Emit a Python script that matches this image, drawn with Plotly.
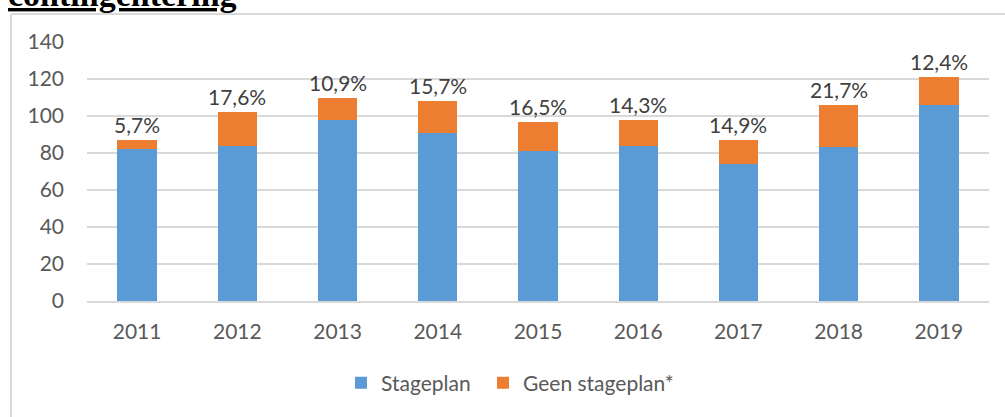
import plotly.graph_objects as go

years = ["2011", "2012", "2013", "2014", "2015", "2016", "2017", "2018", "2019"]
stageplan = [82, 84, 98, 91, 81, 84, 74, 83, 106]
geen_stageplan = [5, 18, 12, 17, 16, 14, 13, 23, 15]
pct_labels = ["5,7%", "17,6%", "10,9%", "15,7%", "16,5%", "14,3%", "14,9%", "21,7%", "12,4%"]
y_ticks = [0, 20, 40, 60, 80, 100, 120, 140]

W, H = 1005, 417
L, R, T, B = 87, 16, 42, 116
pw, ph = W - L - R, H - T - B

def px(x):
    return (x - L) / pw

def py(y):
    return (H - B - y) / ph

font_fam = "Lato, Open Sans, sans-serif"
fig = go.Figure()
fig.add_trace(go.Bar(name="Stageplan", x=years, y=stageplan, legend="legend",
                     marker=dict(color="#5B9BD5", line=dict(width=0))))
fig.add_trace(go.Bar(name="Geen stageplan*", x=years, y=geen_stageplan, legend="legend2",
                     marker=dict(color="#ED7D31", line=dict(width=0))))

totals = [a + b for a, b in zip(stageplan, geen_stageplan)]
for i, (tot, lab) in enumerate(zip(totals, pct_labels)):
    fig.add_annotation(x=i, y=tot, text=lab, showarrow=False, yanchor="bottom", yshift=1,
                       font=dict(size=21, color="#404040", family=font_fam))

fig.add_annotation(xref="paper", yref="paper", x=px(6), y=py(15), xanchor="left", yanchor="bottom",
                   text="<b><u>contingentering</u></b>", showarrow=False,
                   font=dict(size=34, color="#000000", family="Liberation Serif, serif"))

# frame
fig.add_shape(type="line", xref="paper", yref="paper", x0=px(11), x1=px(11), y0=py(14), y1=py(417),
              line=dict(color="#D9D9D9", width=2))
fig.add_shape(type="line", xref="paper", yref="paper", x0=px(11), x1=px(1005), y0=py(14), y1=py(14),
              line=dict(color="#D9D9D9", width=2))

leg_common = dict(orientation="h", xanchor="left", y=py(383), yanchor="middle",
                  font=dict(size=21, color="#595959"), bgcolor="rgba(0,0,0,0)")
fig.update_layout(
    width=W, height=H,
    margin=dict(l=L, r=R, t=T, b=B, autoexpand=False),
    barmode="stack", bargap=0.607,
    plot_bgcolor="white", paper_bgcolor="white",
    font=dict(family=font_fam, size=21, color="#595959"),
    showlegend=True,
    legend=dict(x=px(341), **leg_common),
    legend2=dict(x=px(483), **leg_common),
)
fig.update_xaxes(type="category", range=[-0.5, len(years) - 0.5], showgrid=False, showline=True,
                 linecolor="#D9D9D9", linewidth=2, ticks="", ticklabelstandoff=11)
fig.update_yaxes(range=[0, 140], tickvals=y_ticks, showgrid=True, gridcolor="#D9D9D9", gridwidth=2,
                 zeroline=False, showline=False, ticks="", ticklabelstandoff=22)

fig.write_html("out.html", config={"displayModeBar": False},
               post_script="document.body.style.margin='0';document.body.style.overflow='hidden';")
